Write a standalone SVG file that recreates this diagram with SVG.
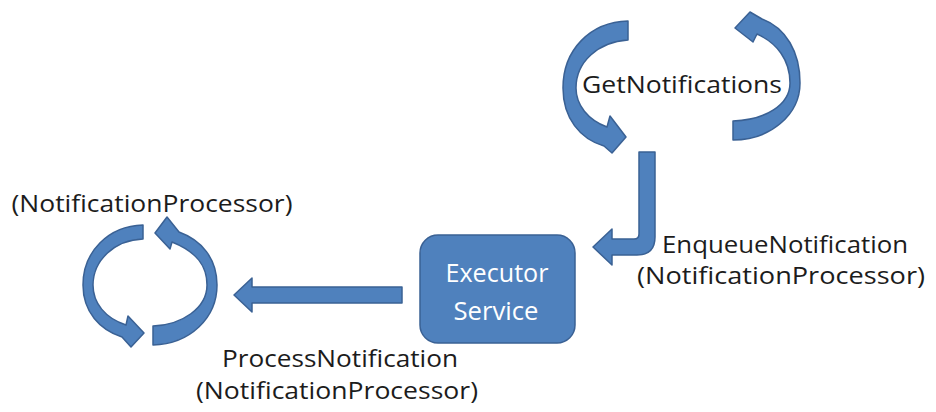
<svg xmlns="http://www.w3.org/2000/svg" width="936" height="412" viewBox="0 0 936 412">
  <style>
    .shape { fill: #4F81BD; stroke: #3A6194; stroke-width: 1.5; stroke-linejoin: round; }
    .label { font-family: "Open Sans", "Noto Sans", "Liberation Sans", sans-serif; font-size: 24px; fill: #1c1c1c; text-anchor: middle; }
    .inner { fill: #ffffff; font-size: 25px; }
  </style>
  <rect width="936" height="412" fill="#ffffff"/>

  <!-- GetNotifications: looping pair of curved arrows -->
  <g id="get-notifications">
    <path class="shape" d="M 628 21 C 590 22 563 50 563 88 C 563 118 580 139 604 146 L 612 153 L 626 137 L 610 116 L 607 127 C 588 120 576 105 576 88 C 576 62 598 42 628 40 Z"/>
    <path class="shape" d="M 733 140 C 770 140 800 115 800 83 C 800 52 786 28 762 19 L 750 12 L 735 28 L 753 42 L 757 34 C 777 43 790 60 790 83 C 790 105 765 120 733 121 Z"/>
    <text class="label" x="682" y="93" font-size="27" textLength="200" lengthAdjust="spacingAndGlyphs">GetNotifications</text>
  </g>

  <!-- NotificationProcessor: looping pair of curved arrows with caption -->
  <g id="notification-processor">
    <path class="shape" d="M 143 225 C 108 226 83 252 83 285 C 83 312 100 330 122 337 L 131 347 L 144 333 L 128 316 L 126 325 C 105 318 93 303 93 285 C 93 260 115 240 143 239 Z"/>
    <path class="shape" d="M 153 345 C 190 344 217 318 217 285 C 217 258 201 240 179 232 L 167 217 L 155 233 L 170 249 L 172 242 C 197 252 207 266 207 285 C 207 308 182 325 153 326 Z"/>
    <text class="label" x="152" y="212" font-size="25" textLength="281" lengthAdjust="spacingAndGlyphs">(NotificationProcessor)</text>
  </g>

  <!-- Executor Service -->
  <g id="executor-service">
    <rect class="shape" x="420" y="235" width="155" height="108" rx="18" ry="18" stroke-width="2"/>
    <text class="label inner" x="497" y="282" textLength="103" lengthAdjust="spacingAndGlyphs">Executor</text>
    <text class="label inner" x="496" y="320" textLength="85" lengthAdjust="spacingAndGlyphs">Service</text>
  </g>

  <!-- Connectors -->
  <g id="connectors">
    <!-- EnqueueNotification: bent arrow down then left into the executor -->
    <path class="shape" d="M 639 152 H 655 V 237 Q 655 255 637 255 H 612 V 265 L 593 247 L 612 229 V 239 H 634 Q 639 239 639 234 Z"/>
    <text class="label" x="785" y="253" textLength="246" lengthAdjust="spacingAndGlyphs">EnqueueNotification</text>
    <text class="label" x="781" y="284" textLength="288" lengthAdjust="spacingAndGlyphs">(NotificationProcessor)</text>

    <!-- ProcessNotification: straight arrow from executor to processor -->
    <path class="shape" d="M 402 287 V 303 H 252 V 312 L 234 295 L 252 278 V 287 Z"/>
    <text class="label" x="340" y="367" textLength="236" lengthAdjust="spacingAndGlyphs">ProcessNotification</text>
    <text class="label" x="337" y="399" textLength="282" lengthAdjust="spacingAndGlyphs">(NotificationProcessor)</text>
  </g>
</svg>
